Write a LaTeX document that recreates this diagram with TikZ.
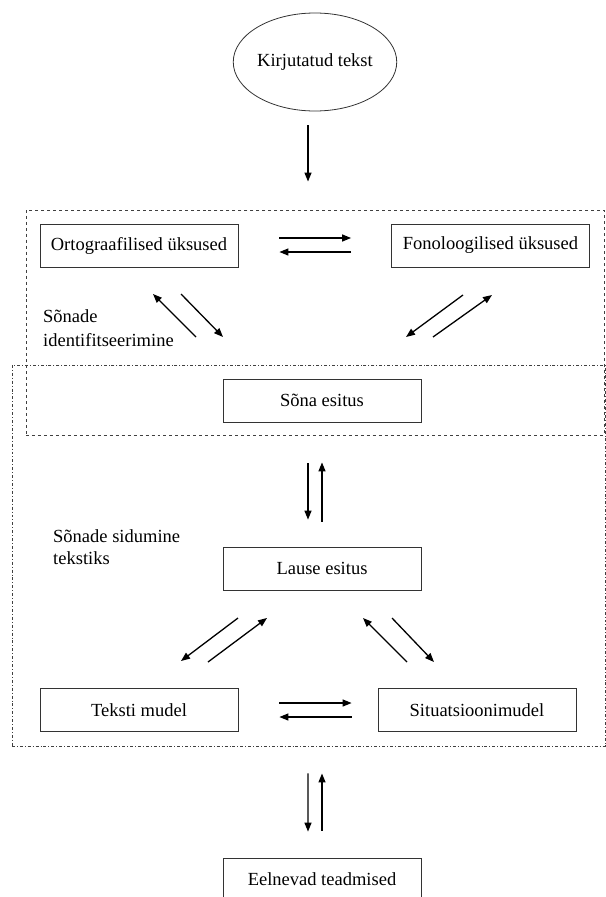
\documentclass[tikz,border=0pt]{standalone}
\usepackage{fontspec}
\setmainfont{Liberation Serif}
\usetikzlibrary{
    calc,
    positioning,
    arrows.meta,
    shapes.geometric
}
\tikzset{
    line/.style = {
        line width = 1.3bp,
        ->,
        > = {
            Triangle[length=9bp, width=7bp]
        }
    },
    arrow/.style = {
        line
    },
    % Text box:
    box node/.style = {
        rectangle,
        draw = black!80,
        line width = 0.8bp,
        minimum width = 198bp,
        minimum height = 43bp,
        inner sep = 0pt
    },
    % Input text:
    input node/.style = {
        ellipse,
        draw = black!80,
        line width = 0.8bp,
        minimum width = 156bp,
        minimum height = 98bp,
        inner sep = 0pt
    },
    % Side label (base = last line):
    stage label/.style = {
        align = left,
        anchor = base west,
        inner sep = 0pt
    },
    % Plates:
    plate/.style = {
        draw = black!75,
        line width = 0.9bp,
        rectangle,
        inner sep = 0pt
    },
    word plate/.style = {
        plate,
        dashed
    },
    text plate/.style = {
        plate,
        dash dot
    }
}

\begin{document}
\begin{tikzpicture}[x=1bp, y=-1bp, font=\fontsize{18.5bp}{24bp}\selectfont]
    \useasboundingbox (0, 0) rectangle (606, 897);
    \node [word plate, minimum width=578bp, minimum height=225bp] (word plate) at (315, 322.5) {};
    \node [text plate, minimum width=593bp, minimum height=381bp] (text plate) at (308.5, 555.5) {};
    \node [input node] (written) at (315, 62) {Kirjutatud tekst};
    \node [box node] (ortho) at (139, 245.5) {Ortograafilised üksused};
    \node [box node] (phono) at (490.5, 245.5) {Fonoloogilised üksused};
    \node [box node] (word) at (322, 400.5) {Sõna esitus};
    \node [box node] (sentence) at (322, 568.5) {Lause esitus};
    \node [box node] (textbase) at (139, 710) {Teksti mudel};
    \node [box node] (situation) at (477, 710) {Situatsioonimudel};
    \node [box node] (prior) at (322, 879.5) {Eelnevad teadmised};
    \node [stage label] (identify) at (43, 346) {Sõnade\\identifitseerimine};
    \node [stage label] (linking) at (53, 564) {Sõnade sidumine\\[-2bp]tekstiks};
    % entry and straight pairs
    \draw [arrow, shorten <=14bp, shorten >=28bp] ([xshift=-7bp]written.south) -- ([xshift=-7bp]word plate.north);
    \draw [arrow, shorten <=41bp, shorten >=40bp] ([yshift=7.5bp]ortho.east) -- ([yshift=7.5bp]phono.west);
    \draw [arrow, shorten <=40bp, shorten >=41bp] ([yshift=-6.5bp]phono.west) -- ([yshift=-6.5bp]ortho.east);
    \draw [arrow, shorten <=41bp, shorten >=27bp] ([xshift=-14bp]word.south) -- ([xshift=-14bp]sentence.north);
    \draw [arrow, shorten <=25bp, shorten >=40bp] (sentence.north) -- (word.south);
    \draw [arrow, shorten <=41bp, shorten >=26bp] ([yshift=7bp]textbase.east) -- ([yshift=7bp]situation.west);
    \draw [arrow, shorten <=26bp, shorten >=41bp] ([yshift=-7bp]situation.west) -- ([yshift=-7bp]textbase.east);
    \draw [arrow, shorten <=27bp, shorten >=26bp] ($(text plate.south -| prior.north)+(-14, 0)$) -- ([xshift=-14bp]prior.north);
    \draw [arrow, shorten <=27bp, shorten >=27bp] (prior.north) -- (text plate.south -| prior.north);
    % diagonal pairs
    \coordinate (ortho in) at (153, 294);
    \coordinate (ortho out) at (181, 294);
    \coordinate (word left in) at (223, 337);
    \coordinate (word left out) at (196, 337);
    \coordinate (phono in) at (492, 295);
    \coordinate (phono out) at (463, 295);
    \coordinate (word right in) at (406, 337);
    \coordinate (word right out) at (433, 337);
    \draw [arrow] (word left out) -- (ortho in);
    \draw [arrow] (ortho out) -- (word left in);
    \draw [arrow] (phono out) -- (word right in);
    \draw [arrow] (word right out) -- (phono in);
    \coordinate (sentence left out) at (238, 618);
    \coordinate (sentence left in) at (267, 618);
    \coordinate (textbase in) at (181, 661);
    \coordinate (textbase out) at (208, 662);
    \coordinate (sentence right in) at (363, 618);
    \coordinate (sentence right out) at (392, 618);
    \coordinate (situation out) at (407, 662);
    \coordinate (situation in) at (434, 662);
    \draw [arrow] (sentence left out) -- (textbase in);
    \draw [arrow] (textbase out) -- (sentence left in);
    \draw [arrow] (situation out) -- (sentence right in);
    \draw [arrow] (sentence right out) -- (situation in);
\end{tikzpicture}
\end{document}
